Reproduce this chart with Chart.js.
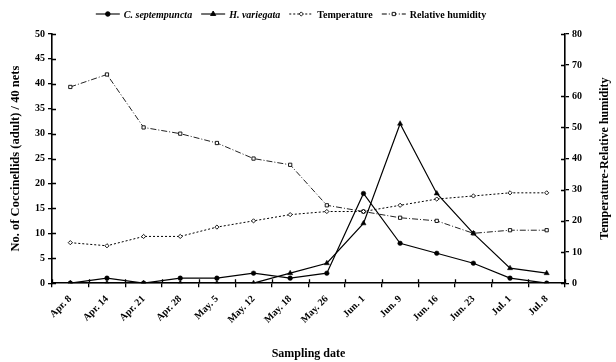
<!DOCTYPE html>
<html><head><meta charset="utf-8">
<script src="https://cdn.jsdelivr.net/npm/chart.js@4"></script>
<style>html,body{margin:0;padding:0;background:#fff}#wrap{width:616px;height:362px}</style>
</head><body><div id="wrap"><canvas id="c" width="616" height="362"></canvas></div>
<script>
const categories = ["Apr. 8","Apr. 14","Apr. 21","Apr. 28","May. 5","May. 12","May. 18","May. 26","Jun. 1","Jun. 9","Jun. 16","Jun. 23","Jul. 1","Jul. 8"];
const cSeptempuncta = [0,1,0,1,1,2,1,2,18,8,6,4,1,0];
const hVariegata = [0,0,0,0,0,0,2,4,12,32,18,10,3,2];
const temperature = [13,12,15,15,18,20,22,23,23,25,27,28,29,29];
const humidity = [63,67,50,48,45,40,38,25,23,21,20,16,17,17];
const leftTicks = [0,5,10,15,20,25,30,35,40,45,50];
const rightTicks = [0,10,20,30,40,50,60,70,80];

const SERIF = "'Liberation Serif','Times New Roman',serif";

const datasets = [
  {label:"C. septempuncta", italic:true, data:cSeptempuncta, yAxisID:'y', borderColor:'#000', backgroundColor:'#000', borderWidth:1.2, pointStyle:'circle', pointRadius:2.3, pointBorderWidth:0.5, pointBackgroundColor:'#000', pointBorderColor:'#000', dash:[]},
  {label:"H. variegata", italic:true, data:hVariegata, yAxisID:'y', borderColor:'#000', backgroundColor:'#000', borderWidth:1.2, pointStyle:'triangle', pointRadius:3, pointBorderWidth:0.5, pointBackgroundColor:'#000', pointBorderColor:'#000', dash:[]},
  {label:"Temperature", italic:false, data:temperature, yAxisID:'y1', borderColor:'#000', backgroundColor:'#fff', borderWidth:1, borderDash:[2,2], pointStyle:'rectRot', pointRadius:2.1, pointBackgroundColor:'#fff', pointBorderColor:'#000', pointBorderWidth:0.9, dash:[2,2]},
  {label:"Relative humidity", italic:false, data:humidity, yAxisID:'y1', borderColor:'#222', backgroundColor:'#fff', borderWidth:1, borderDash:[6,2,1,2], pointStyle:'rect', pointRadius:2.3, pointBackgroundColor:'#fff', pointBorderColor:'#000', pointBorderWidth:0.9, dash:[5,2,1,2]}
];
datasets.forEach(d=>{d.tension=0; d.fill=false;});

const decorPlugin = {
  id:'decor',
  afterDraw(chart){
    const ctx = chart.ctx;
    const area = chart.chartArea;
    ctx.save();
    ctx.strokeStyle='#000'; ctx.lineWidth=1.3;
    const ys = chart.scales.y, y1 = chart.scales.y1;
    ctx.beginPath();
    leftTicks.forEach(v=>{const p=Math.round(ys.getPixelForValue(v))+0.5; ctx.moveTo(area.left, p); ctx.lineTo(area.left+4, p);});
    rightTicks.forEach(v=>{const p=Math.round(y1.getPixelForValue(v))+0.5; ctx.moveTo(area.right, p); ctx.lineTo(area.right-4, p);});
    for(let i=0;i<=categories.length;i++){
      const p = Math.round(area.left + (area.right-area.left)*i/categories.length)+0.5;
      ctx.moveTo(p, area.bottom); ctx.lineTo(p, area.bottom-4);
    }
    ctx.stroke();
    ctx.save();
    ctx.translate(605, (area.top+area.bottom)/2);
    ctx.rotate(-Math.PI/2);
    ctx.font = 'bold 12px ' + SERIF; ctx.fillStyle='#000'; ctx.textAlign='center'; ctx.textBaseline='middle';
    ctx.fillText('Temperature-Relative humidity', 0, 0);
    ctx.restore();
    const y = 14;
    const lineLen = 24, gap = 4, itemGap = 9;
    const fonts = chart.data.datasets.map(d => (d.italic?'italic ':'') + 'bold 10px ' + SERIF);
    let total = 0;
    const widths = chart.data.datasets.map((d,i)=>{ctx.font=fonts[i]; return ctx.measureText(d.label).width;});
    widths.forEach(w=> total += lineLen + gap + w);
    total += itemGap*(widths.length-1);
    let x = 291 - total/2;
    chart.data.datasets.forEach((d,i)=>{
      ctx.strokeStyle = '#000'; ctx.lineWidth = 1.1;
      ctx.setLineDash(d.dash);
      ctx.beginPath(); ctx.moveTo(x,y); ctx.lineTo(x+lineLen,y); ctx.stroke();
      ctx.setLineDash([]);
      ctx.fillStyle = d.pointBackgroundColor; ctx.strokeStyle='#000'; ctx.lineWidth=0.9;
      Chart.helpers.drawPoint(ctx, {pointStyle:d.pointStyle, radius:d.pointRadius, rotation:0, borderWidth:0.9}, x+lineLen/2, y);
      x += lineLen + gap;
      ctx.font = fonts[i]; ctx.fillStyle='#000'; ctx.textBaseline='middle'; ctx.textAlign='left';
      ctx.fillText(d.label, x, y+1);
      x += widths[i] + itemGap;
    });
    ctx.restore();
  }
};

new Chart(document.getElementById('c'), {
  type:'line',
  data:{labels:categories, datasets},
  plugins:[decorPlugin],
  options:{
    responsive:false, animation:false, devicePixelRatio:1,
    layout:{padding:{top:34,bottom:1,left:0,right:0}},
    plugins:{legend:{display:false}, tooltip:{enabled:false}},
    scales:{
      x:{
        offset:true,
        afterFit(s){s.paddingLeft=0; s.paddingRight=0;},
        grid:{offset:true, drawOnChartArea:false, color:'#000', tickLength:4, tickColor:'#000', lineWidth:1.3},
        border:{color:'#000', width:1.6},
        ticks:{maxRotation:45, minRotation:45, color:'#000', font:{family:SERIF, weight:'bold', size:10}, padding:6, autoSkip:false},
        title:{display:true, text:'Sampling date', color:'#000', font:{family:SERIF, weight:'bold', size:12}, padding:{top:15,bottom:0}}
      },
      y:{
        position:'left', min:0, max:50,
        afterBuildTicks(s){s.ticks = leftTicks.map(v=>({value:v}));},
        afterFit(s){s.width = 52;},
        grid:{drawOnChartArea:false, tickLength:4, tickColor:'#000', lineWidth:1.3},
        border:{color:'#000', width:1.6},
        ticks:{color:'#000', font:{family:SERIF, weight:'bold', size:10}, padding:3},
        title:{display:true, text:'No. of Coccinellids (adult) / 40 nets', color:'#000', font:{family:SERIF, weight:'bold', size:12.5}, padding:{top:8,bottom:4}}
      },
      y1:{
        position:'right', min:0, max:80,
        afterBuildTicks(s){s.ticks = rightTicks.map(v=>({value:v}));},
        afterFit(s){s.width = 51;},
        grid:{drawOnChartArea:false, tickLength:4, tickColor:'#000', lineWidth:1.3},
        border:{color:'#000', width:1.6},
        ticks:{color:'#000', font:{family:SERIF, weight:'bold', size:10}, padding:3}
      }
    }
  }
});
</script></body></html>
